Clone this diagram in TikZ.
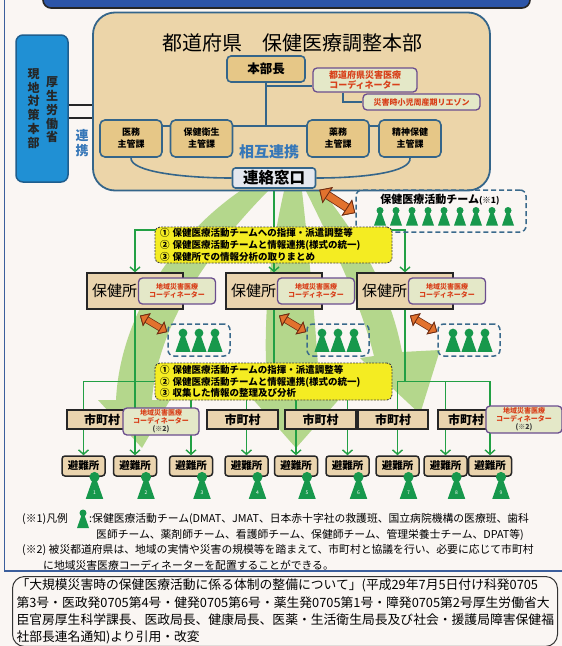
\documentclass[tikz,border=0pt]{standalone}
\usepackage{fontspec}
\setmainfont{Noto Sans CJK JP}
\usepackage{tikz}
\usetikzlibrary{arrows.meta,positioning}

\definecolor{paper}{HTML}{FAF6F3}
\definecolor{barblue}{HTML}{2C55A8}
\definecolor{framecol}{HTML}{3B5E9C}
\definecolor{hqedge}{HTML}{34658A}
\definecolor{hqtan}{HTML}{ECD5A9}
\definecolor{subtan}{HTML}{E6C787}
\definecolor{mhlwblue}{HTML}{2090D4}
\definecolor{mhlwedge}{HTML}{1E5E8E}
\definecolor{winfill}{HTML}{E5E8EF}
\definecolor{renkeiblue}{HTML}{3677B8}
\definecolor{coordfill}{HTML}{E4E8C8}
\definecolor{coordedge}{HTML}{6B4E8E}
\definecolor{coordred}{HTML}{D8401A}
\definecolor{officetan}{HTML}{EAD4AE}
\definecolor{memoyellow}{HTML}{F4EC22}
\definecolor{teamedge}{HTML}{3A6A8C}
\definecolor{flowgreen}{HTML}{22A044}
\definecolor{teamgreen}{HTML}{17984C}
\definecolor{swooshgreen}{HTML}{B4D78C}
\definecolor{arrowfill}{HTML}{E2722E}
\definecolor{arrowedge}{HTML}{6E2C12}

\pgfdeclarelayer{bg}
\pgfdeclarelayer{wires}
\pgfsetlayers{bg,wires,main}

\tikzset{
  person/.pic={
    \fill[teamgreen] (0,0) circle (3.5);
    \fill[teamgreen] (-1.6,2.5) -- (1.6,2.5) -- (6,15) -- (-6,15) -- cycle;
  },
  bigswap/.style={draw=arrowfill, line width=7pt,
    preaction={draw=arrowedge, line width=8.6pt},
    {Triangle[length=10pt,width=19pt,fill=arrowfill,color=arrowedge,line width=0.8pt]}-{Triangle[length=10pt,width=19pt,fill=arrowfill,color=arrowedge,line width=0.8pt]}},
  smallswap/.style={draw=arrowfill, line width=5.5pt,
    preaction={draw=arrowedge, line width=7pt},
    {Triangle[length=8pt,width=15pt,fill=arrowfill,color=arrowedge,line width=0.8pt]}-{Triangle[length=8pt,width=15pt,fill=arrowfill,color=arrowedge,line width=0.8pt]}}
}

\begin{document}
\begin{tikzpicture}[x=1pt, y=-1pt,
  mainbox/.style={draw=hqedge, line width=1.8pt, fill=hqtan, rounded corners=22pt, minimum width=397pt, minimum height=178pt},
  mhlwbox/.style={draw=mhlwedge, line width=1.5pt, fill=mhlwblue, rounded corners=7pt, minimum width=52pt, minimum height=147pt},
  vtext/.style={align=center, inner sep=0, text=black!85, font=\bfseries\fontsize{12}{13.8}\selectfont},
  chiefbox/.style={draw=hqedge, line width=1.6pt, fill=subtan, rounded corners=4pt, minimum width=78pt, minimum height=26pt, inner sep=0, font=\bfseries\fontsize{12.5}{14}\selectfont},
  sectbox/.style={draw=hqedge, line width=1.6pt, fill=subtan, rounded corners=5pt, minimum width=62pt, minimum height=37pt, inner sep=0, align=center, font=\bfseries\fontsize{9}{12}\selectfont},
  coordbox/.style={draw=coordedge, line width=1.3pt, fill=coordfill, text=coordred, rounded corners=4pt, align=center, inner sep=0, font=\bfseries\fontsize{7}{8.5}\selectfont},
  windowbox/.style={draw=hqedge, line width=1.6pt, fill=winfill, rounded corners=3pt, minimum width=83pt, minimum height=20pt, inner sep=0, font=\bfseries\fontsize{15.5}{17}\selectfont},
  link/.style={draw=hqedge, line width=1.6pt},
  pair/.style={draw=black!85, line width=1.6pt},
  office/.style={draw=black!85, line width=1.3pt, fill=officetan, text width=86pt, align=left, inner xsep=5pt, inner ysep=0, minimum height=36pt, font=\fontsize{15}{18}\selectfont},
  city/.style={draw=black!85, line width=1.5pt, fill=officetan, minimum height=19pt, inner sep=0, font=\bfseries\fontsize{12}{14}\selectfont},
  shelter/.style={draw=black!85, line width=1.5pt, fill=officetan, rounded corners=3pt, minimum width=43pt, minimum height=20pt, inner sep=0, font=\bfseries\fontsize{10.5}{12}\selectfont},
  memo/.style={draw=black!75, fill=memoyellow, dash pattern=on 2pt off 1.2pt, line width=0.9pt, rounded corners=5pt, minimum height=36pt, text width=227pt, align=left, inner xsep=5pt, inner ysep=0, font=\bfseries\fontsize{9.5}{11.7}\selectfont},
  teambox/.style={draw=teamedge, line width=1.5pt, dash pattern=on 5pt off 3pt, rounded corners=6pt},
  wire/.style={draw=flowgreen, line width=1.4pt},
  flow/.style={draw=flowgreen, line width=1.4pt, -{Straight Barb[length=4.5pt,width=10pt]}},
  swoosh/.style={fill=swooshgreen},
  legend/.style={inner sep=0, anchor=west, font=\fontsize{10.8}{12}\selectfont}
]
\useasboundingbox (0,0) rectangle (562,646);

\begin{pgfonlayer}{bg}
  \fill[paper] (0,0) rectangle (562,646);
  % header strip, only its lower edge shows
  \filldraw[fill=barblue, draw=black!85, line width=1.6pt, rounded corners=8pt] (43,-20) rectangle (530,8);
  \draw[framecol, line width=1.2pt] (4.5,-2) -- (4.5,571) -- (564,571);
  % wide green arrows under the chart
  \fill[swoosh] (240,191) .. controls (172,238) and (120,318) .. (116,400) -- (98,400) -- (142,448) -- (170,400) -- (152,400) .. controls (158,322) and (212,248) .. (268,191) -- cycle;
  \fill[swoosh] (284,191) .. controls (268,262) and (262,330) .. (268,396) -- (250,396) -- (296,448) -- (342,396) -- (320,396) .. controls (316,330) and (310,262) .. (302,191) -- cycle;
  \fill[swoosh] (306,191) .. controls (330,240) and (360,300) .. (374,356) -- (360,358) -- (420,414) -- (440,350) -- (402,352) .. controls (390,285) and (352,228) .. (322,191) -- cycle;
\end{pgfonlayer}

% prefecture headquarters
\node[mhlwbox] (mhlw) at (42,108.5) {};
\node[vtext] (mhlwR) at (52,110) {厚\\生\\労\\働\\省};
\node[vtext] (mhlwL) at (33.5,108.5) {現\\地\\対\\策\\本\\部};
\node[mainbox] (hq) at (291.5,101.5) {};
\node[inner sep=0, font=\fontsize{20}{24}\selectfont] (hqtitle) at (292,43) {都道府県　保健医療調整本部};
\node[chiefbox] (chief) at (266,69) {本部長};
\node[coordbox, minimum width=104pt, minimum height=24pt, font=\bfseries\fontsize{9}{10.5}\selectfont] (pcoord) at (365,80) {都道府県災害医療\\コーディネーター};
\node[coordbox, minimum width=117pt, minimum height=16pt, font=\bfseries\fontsize{8}{9}\selectfont] (liaison) at (421.5,102) {災害時小児周産期リエゾン};
\node[sectbox] (med) at (131,138.5) {医務\\主管課};
\node[sectbox] (health) at (201.5,138.5) {保健衛生\\主管課};
\node[sectbox] (pharm) at (338,138.5) {薬務\\主管課};
\node[sectbox] (mental) at (410,138.5) {精神保健\\主管課};
\node[inner sep=0, text=renkeiblue, font=\bfseries\fontsize{15}{18}\selectfont] (mutual) at (269,152) {相互連携};
\node[windowbox] (window) at (274,178) {連絡窓口};

\coordinate (bus0) at ([yshift=12.5pt]health.east);
\draw[link] ([yshift=12.5pt]med.east) -- ([yshift=12.5pt]health.west);
\draw[link] (bus0) -- (bus0 -| pharm.west);
\draw[link] ([yshift=12.5pt]pharm.east) -- ([yshift=12.5pt]mental.west);
\draw[link] (chief.south) -- (chief.south |- bus0);
\coordinate (pc) at ([yshift=-6pt]pcoord.west);
\draw[link] (chief.south |- pc) -- (pc);
\draw[link] ([xshift=-22pt]pcoord.south) |- (liaison.west);
\draw[link] (med.south) .. controls (130,172) and (185,178) .. (window.west);
\draw[link] (window.east) .. controls (365,178) and (412,172) .. (mental.south);

\coordinate (m1) at ([yshift=3.5pt]mhlw.east);
\coordinate (m2) at ([yshift=-9.5pt]mhlw.east);
\draw[pair] (m1) -- (m1 -| hq.west);
\draw[pair] (m2) -- (m2 -| hq.west);
\node[vtext, text=renkeiblue, font=\bfseries\fontsize{13}{15}\selectfont] (renkei) at (82,143) {連\\携};

% teams
\node[teambox, minimum width=170pt, minimum height=42pt] (team) at (441,211) {};
\node[inner sep=0, font=\bfseries\fontsize{11}{12}\selectfont] (teamtitle) at (440,199.5) {保健医療活動チーム{\fontsize{8.5}{9}\selectfont(※1)}};
\foreach \i in {0,...,8}
  \pic at (380+16*\i,210.5) {person};

\node[memo] (memo1) at (273.5,245) {① 保健医療活動チームへの指揮・派遣調整等\\② 保健医療活動チームと情報連携(様式の統一)\\③ 保健所での情報分析の取りまとめ};

\foreach \i/\x in {1/135, 2/274, 3/405} {
  \node[office] (office\i) at (\x,291) {保健所};
  \node[coordbox, minimum width=77pt, minimum height=26pt] (lc\i) at (\x+42,291) {地域災害医療\\コーディネーター};
  \node[teambox, minimum width=62pt, minimum height=32pt] (tm\i) at (\x+64,340) {};
  \foreach \d in {-16,0,16}
    \pic[scale=1.25] at (\x+64+\d,333) {person};
}

\node[memo, minimum height=37pt] (memo2) at (273.5,381.5) {① 保健医療活動チームの指揮・派遣調整等\\② 保健医療活動チームと情報連携(様式の統一)\\③ 収集した情報の整理及び分析};

% municipalities and shelters
\foreach \i/\x/\w in {1/102/70pt, 2/242.5/71pt, 3/320.5/71pt, 4/393/70pt, 5/466/56pt}
  \node[city, minimum width=\w] (city\i) at (\x,419.5) {市町村};
\node[coordbox, minimum width=76pt, minimum height=27pt, font=\bfseries\fontsize{7}{7.8}\selectfont] (cc1) at (161,421.5) {地域災害医療\\コーディネーター\\{\color{black!80}(※2)}};
\node[coordbox, minimum width=76pt, minimum height=27pt, font=\bfseries\fontsize{7}{7.8}\selectfont] (cc2) at (524,419.5) {地域災害医療\\コーディネーター\\{\color{black!80}(※2)}};

\foreach \x [count=\i] in {83.5,135,191,246.5,296,347.5,397.5,445.5,490} {
  \node[shelter] (sh\i) at (\x,466) {避難所};
  \pic[scale=1.45] at (\x+11,477) {person};
  \node[inner sep=0, text=white, font=\fontsize{5}{5}\selectfont] (num\i) at (\x+11,493) {\i};
}

\begin{pgfonlayer}{wires}
  \coordinate (hub) at (274,230);
  \draw[wire] (window.south) -- (hub);
  \draw[flow] (hub) -| (office1.north);
  \draw[flow] (hub) -- (office2.north);
  \draw[flow] (hub) -| (office3.north);
  \foreach \o/\a/\b/\c in {1/1/2/3, 2/4/5/6, 3/7/8/9} {
    \coordinate (drop\o) at (office\o.south |- memo2.center);
    \draw[wire] (office\o.south) -- (drop\o);
    \foreach \s in {\a,\b,\c}
      \draw[flow] (drop\o) -| (sh\s.north);
  }
\end{pgfonlayer}

\draw[bigswap] ([xshift=3pt,yshift=-1pt]window.south east) -- ([yshift=-2pt]team.west);
\foreach \i in {1,2,3}
  \draw[smallswap] ([xshift=5pt,yshift=-6pt]office\i.south) -- ([yshift=8pt]tm\i.west);

% notes
\node[legend] (note1) at (22,519) {(※1)凡例};
\pic at (83,513) {person};
\node[legend] (note1b) at (89,519) {:保健医療活動チーム(DMAT、JMAT、日本赤十字社の救護班、国立病院機構の医療班、歯科};
\node[legend] (note1c) at (96,535) {医師チーム、薬剤師チーム、看護師チーム、保健師チーム、管理栄養士チーム、DPAT等)};
\node[legend] (note2) at (22,550) {(※2)\ 被災都道府県は、地域の実情や災害の規模等を踏まえて、市町村と協議を行い、必要に応じて市町村};
\node[legend] (note2b) at (43,565) {に地域災害医療コーディネーターを配置することができる。};

\node[draw=black!80, line width=1pt, rounded corners=12pt, anchor=north west, text width=537pt, align=left, inner xsep=4pt, inner ysep=2.5pt, font=\fontsize{12.8}{17.2}\selectfont] (source) at (12,576) {「大規模災害時の保健医療活動に係る体制の整備について」(平成29年7月5日付け科発0705\\第3号・医政発0705第4号・健発0705第6号・薬生発0705第1号・障発0705第2号厚生労働省大\\臣官房厚生科学課長、医政局長、健康局長、医薬・生活衛生局長及び社会・援護局障害保健福\\社部長連名通知)より引用・改変};
\end{tikzpicture}
\end{document}
